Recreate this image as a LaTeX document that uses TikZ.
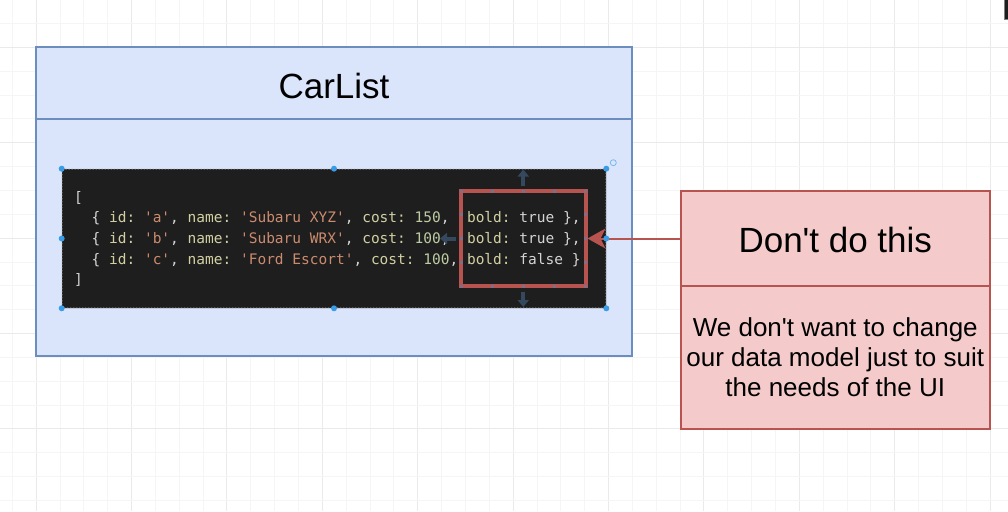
\documentclass[tikz,border=0pt]{standalone}
\usepackage{fontspec}
\setmainfont{Liberation Sans}
\setmonofont{DejaVu Sans Mono}
\usetikzlibrary{arrows.meta}
\definecolor{bluefill}{HTML}{DAE5FB}
\definecolor{blueline}{HTML}{6C8EBF}
\definecolor{pinkfill}{HTML}{F4CBCA}
\definecolor{redline}{HTML}{B85450}
\definecolor{codebg}{HTML}{1E1E1E}
\definecolor{cpun}{HTML}{D4D4D4}
\definecolor{ckey}{HTML}{D2D0A2}
\definecolor{cstr}{HTML}{CB8B6E}
\definecolor{cnum}{HTML}{BCCBA2}
\definecolor{gridmin}{HTML}{F5F5F5}
\definecolor{gridmaj}{HTML}{EAEAEA}
\definecolor{hovc}{HTML}{34495E}
\definecolor{handlec}{HTML}{3A9BE6}
\definecolor{hlhandle}{HTML}{7D6F8A}
\newcommand\Kc[1]{\textcolor{ckey}{#1}}
\newcommand\Sc[1]{\textcolor{cstr}{#1}}
\newcommand\Nc[1]{\textcolor{cnum}{#1}}
\newcommand\ap{\textquotesingle}
\tikzset{
  bluebox/.style={draw=blueline, fill=bluefill, line width=2pt, inner sep=0pt},
  pinkbox/.style={draw=redline, fill=pinkfill, line width=2pt, inner sep=0pt},
  codebox/.style={fill=codebg, draw=gray!55, dash pattern=on 1.5pt off 1.5pt, line width=0.6pt, rounded corners=2pt, inner sep=0pt},
  hlbox/.style={draw=redline, line width=4pt, inner sep=0pt},
  conn/.style={draw=redline, line width=2pt, -{Stealth[length=18pt,width=20pt,inset=5pt]}},
  hov/.style={draw=hovc, line width=4pt, -{Triangle[length=7pt,width=11pt]}},
  handle/.style={fill=handlec},
  handlering/.style={draw=handlec!70, line width=0.8pt},
  hlh/.style={fill=hlhandle},
  title/.style={font=\fontsize{35}{42}\selectfont, anchor=base, inner sep=0pt},
  bodytext/.style={font=\fontsize{26}{30}\selectfont, anchor=base, inner sep=0pt},
  codeline/.style={font=\fontsize{14.5}{20.7}\selectfont\ttfamily, text=cpun, anchor=base west, inner sep=0pt}
}
\begin{document}
\begin{tikzpicture}[x=1pt,y=-1pt]
\useasboundingbox (0,0) rectangle (1008,511);
\fill[white] (0,0) rectangle (1008,511);
% grid
\foreach \k in {0,...,41}{
  \pgfmathtruncatemacro\m{mod(\k,4)}
  \ifnum\m=1 \def\gc{gridmaj}\else\def\gc{gridmin}\fi
  \draw[draw=\gc, line width=1pt] ({12.3+23.85*\k},0) -- ({12.3+23.85*\k},511);
}
\foreach \k in {0,...,20}{
  \pgfmathtruncatemacro\m{mod(\k,4)}
  \ifnum\m=1 \def\gc{gridmaj}\else\def\gc{gridmin}\fi
  \draw[draw=\gc, line width=1pt] (0,{23.5+23.85*\k}) -- (1008,{23.5+23.85*\k});
}
% top-right mark
\fill[fill=codebg, draw=gray] (1004,-1) rectangle (1009,19.5);
% CarList
\node[bluebox, minimum width=596pt, minimum height=72pt] (clhead) at (334,83) {};
\node[bluebox, minimum width=596pt, minimum height=237pt] (clbody) at (334,237.5) {};
\node[title] (cltitle) at (334,98.3) {CarList};
% code block
\node[codebox, minimum width=544pt, minimum height=139pt] (code) at (334,238.5) {};
\node[codeline] (l0) at (74,202) {[};
\node[codeline] (l1) at (74,222.7) {~~\{~\Kc{id:}~\Sc{'a'},~\Kc{name:}~\Sc{'Subaru XYZ'},~\Kc{cost:}~\Nc{150},~~\Kc{bold:}~true~\},};
\node[codeline] (l2) at (74,243.3) {~~\{~\Kc{id:}~\Sc{'b'},~\Kc{name:}~\Sc{'Subaru WRX'},~\Kc{cost:}~\Nc{100},~~\Kc{bold:}~true~\},};
\node[codeline] (l3) at (74,264) {~~\{~\Kc{id:}~\Sc{'c'},~\Kc{name:}~\Sc{'Ford Escort'},~\Kc{cost:}~\Nc{100},~\Kc{bold:}~false~\}};
\node[codeline] (l4) at (74,284.7) {]};
% highlight box
\node[hlbox, minimum width=124.5pt, minimum height=95pt] (hl) at (523.25,238.5) {};
\foreach \x in {461,492.1,523.25,554.4,585.5}{
  \fill[hlh] (\x-1.5,189.5) rectangle (\x+1.5,192.5);
  \fill[hlh] (\x-1.5,284.5) rectangle (\x+1.5,287.5);
}
\foreach \y in {214.75,238.5,262.25}{
  \fill[hlh] (459.5,\y-1.5) rectangle (462.5,\y+1.5);
  \fill[hlh] (584,\y-1.5) rectangle (587,\y+1.5);
}
% hover arrows
\coordinate (upS) at (523.25,185.5);
\coordinate (upT) at (523.25,169.5);
\coordinate (dnS) at (523.25,291.5);
\coordinate (dnT) at (523.25,307);
\coordinate (ltS) at (456,238.5);
\coordinate (ltT) at (440,238.5);
\draw[hov] (upS) -- (upT);
\draw[hov] (dnS) -- (dnT);
\draw[hov] (ltS) -- (ltT);
% Don't do this box
\node[pinkbox, minimum width=309.5pt, minimum height=95pt] (dhead) at (835.25,238.5) {};
\node[pinkbox, minimum width=309.5pt, minimum height=143pt] (dbody) at (835.25,357.5) {};
\node[title] (dtitle) at (835.25,252.7) {Don\ap t do this};
\node[bodytext] (b1) at (835.25,336.7) {We don\ap t want to change};
\node[bodytext] (b2) at (835.25,366.7) {our data model just to suit};
\node[bodytext] (b3) at (835.25,396.7) {the needs of the UI};
% connector
\draw[conn] (dhead.west) -- (hl.east);
% selection handles
\foreach \a in {north west,north,north east,west,east,south west,south,south east}{
  \fill[handle] (code.\a) circle (3);
}
\draw[handlering] ([xshift=7pt,yshift=6pt]code.north east) circle (3);
\end{tikzpicture}
\end{document}
